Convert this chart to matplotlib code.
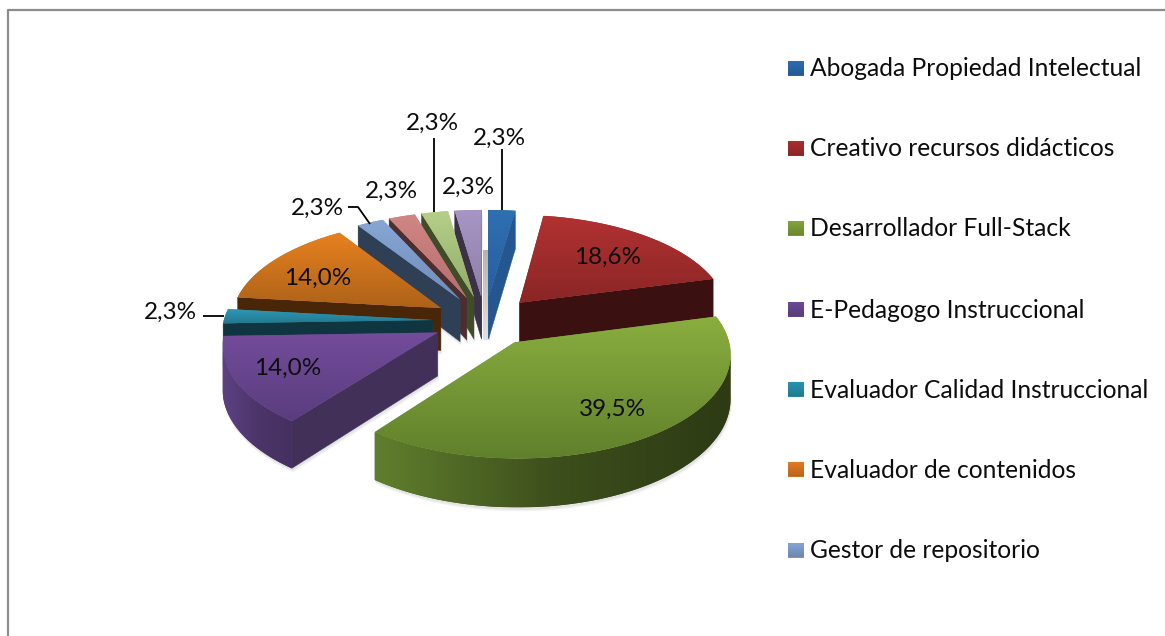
import numpy as np
import matplotlib
matplotlib.use("Agg")
import matplotlib.pyplot as plt
from matplotlib.colors import to_rgb
from matplotlib.patches import Polygon

plt.rcParams['font.family'] = ['Lato', 'DejaVu Sans']

# ---- data ----
legend_labels = ["Abogada Propiedad Intelectual", "Creativo recursos didácticos",
                 "Desarrollador Full-Stack", "E-Pedagogo Instruccional",
                 "Evaluador Calidad Instruccional", "Evaluador de contenidos",
                 "Gestor de repositorio"]
values = [2.3, 18.6, 39.5, 14.0, 2.3, 14.0, 2.3, 2.3, 2.3, 2.3]

top_light = ['#2f6fb2', '#b23131', '#8aae3f', '#734c9b', '#2f9bb9', '#e8811f', '#87a6d4', '#d08685', '#b5cf89', '#a795c5']
top_dark = ['#275f9e', '#8a2626', '#61802c', '#5a3d7e', '#23798f', '#ad6219', '#6f8dbb', '#b46f6e', '#94ab6a', '#8f7da9']
wall_radial = ['#25568f', '#3a1010', '#3a1010', '#433058', '#0f3540', '#4a2608', '#2f3f55', '#4d2e2e', '#3e4c28', '#3b3248']
wall_left = ['#25568f', '#5a1818', '#607f2d', '#5d4183', '#17505f', '#7a4210', '#3f5472', '#6a4040', '#56693a', '#52466a']
wall_mid = ['#22508a', '#451414', '#3d4f1c', '#4c3569', '#124350', '#5e3009', '#364962', '#5a3636', '#485a30', '#463c58']
wall_right = ['#1f4a7a', '#3a1010', '#2d3a14', '#443060', '#0f3540', '#4a2608', '#2f3f55', '#4d2e2e', '#3e4c28', '#3b3248']
legend_colors = ['#2a66a8', '#a02b2b', '#7a9a36', '#65458c', '#278aa3', '#d57320', '#7c9ac8']

# draw order: back of the pie to the front
draw_order = [9, 0, 8, 7, 6, 1, 5, 4, 3, 2]
radius_scale = [1, 1, 1, 1.005, 0.995, 1, 1, 1, 1, 1]
label_xy = [(499, 138), (608, 257), (613, 409), (288, 368), (170, 312),
            (318, 278), (317, 208), (391, 191), (432, 123), (468, 187)]
leaders = {0: [(502, 149), (502, 210)],
           4: [(203, 316), (224, 316)],
           6: [(348, 207), (358, 207), (370, 224)],
           8: [(434, 138), (434, 212)]}
legend_y = [69, 149, 229, 310, 390, 470, 551]

# ---- projection parameters ----
CX, CY = 485.0, 321.0
A, B, K = 210.0, 100.0, 0.10
EXPLODE = 0.25
DEPTH = 43.0

fig = plt.figure(figsize=(11.65, 6.36), dpi=100)
ax = fig.add_axes([0, 0, 1, 1])


def gradient(poly, stops, z, horizontal=False):
    pts = np.asarray(poly)
    y0, y1 = pts[:, 1].min(), pts[:, 1].max()
    x0, x1 = pts[:, 0].min(), pts[:, 0].max()
    rgb = np.array([to_rgb(c) for c in stops])
    t = np.linspace(0, 1, 256)
    pos = np.linspace(0, 1, len(stops))
    ramp = np.column_stack([np.interp(t, pos, rgb[:, c]) for c in range(3)])
    img = ramp[None, :, :] if horizontal else ramp[:, None, :]
    ax.add_patch(Polygon(pts, closed=True, facecolor=tuple(rgb.mean(axis=0)),
                         edgecolor='none', zorder=z))
    im = ax.imshow(img, extent=(x0, x1, y1, y0), aspect='auto', zorder=z + 0.1,
                   interpolation='bilinear')
    im.set_clip_path(Polygon(pts, closed=True, transform=ax.transData))


def project(px, py):
    s = 1 / (1 + K * py)
    return CX + A * px * s, CY - B * py * s, DEPTH * s


total = sum(values)
starts = np.cumsum([0] + values[:-1]) / total * 2 * np.pi
spans = np.array(values) / total * 2 * np.pi

# grey shadow showing between the two back slices
gradient([(482.5, 250), (490, 250), (490, 340), (482.5, 340)], ['#b4b4b4', '#e2e2e2'], 8)

z = 10
for i in draw_order:
    t0, dt = starts[i], spans[i]
    mid = t0 + dt / 2
    ex, ey = EXPLODE * np.sin(mid), EXPLODE * np.cos(mid)
    th = np.linspace(t0, t0 + dt, max(3, int(np.degrees(dt) * 1.5)))
    ax0, ay0, d0 = project(ex, ey)
    r = radius_scale[i]
    xa, ya, da = project(ex + r * np.sin(th), ey + r * np.cos(th))
    arc = np.column_stack([xa, ya])
    top = np.vstack([[ax0, ay0], arc])
    depths = np.concatenate([[d0], da])
    drop = np.column_stack([np.zeros(len(top)), depths])

    # soft shadow under the slice
    sil = np.vstack([top, (top + drop)[::-1]])
    for off, al in ((4, 0.07), (2.5, 0.10)):
        ax.add_patch(Polygon(sil + [off * 0.3, off], closed=True, facecolor='#606060',
                             edgecolor='none', alpha=al, zorder=z - 0.5))

    # curved outer wall, where it faces the viewer
    facing = np.diff(arc[:, 0]) < 0
    if facing.any():
        idx = np.where(facing)[0]
        seg = np.arange(idx[0], idx[-1] + 2)
        upper = arc[seg]
        lower = upper + np.column_stack([np.zeros(len(seg)), da[seg]])
        gradient(np.vstack([upper, lower[::-1]]), [wall_left[i], wall_mid[i], wall_right[i]],
                 z, horizontal=True)

    # the two straight walls, where they face the viewer
    n = len(top)
    for p, q, dp, dq in ((n - 1, 0, depths[n - 1], depths[0]), (0, 1, depths[0], depths[1])):
        if top[q, 0] - top[p, 0] < 0:
            ax.add_patch(Polygon([top[p], top[q], top[q] + [0, dq], top[p] + [0, dp]], closed=True,
                                 facecolor=wall_radial[i], edgecolor=wall_radial[i], lw=0.3,
                                 zorder=z + 0.15))

    gradient(top, [top_light[i], top_dark[i]], z + 0.2)
    z += 1

# leader lines
for pts in leaders.values():
    xs, ys = zip(*pts)
    ax.plot(xs, ys, color='black', lw=1.3, zorder=40, solid_capstyle='butt')

# data labels
for val, (x, y) in zip(values, label_xy):
    ax.text(x, y, f"{val:.1f}".replace('.', ',') + '%', ha='center', va='center',
            fontsize=17.5, color='#0d0d0d', zorder=50)

# legend
for lab, col, y in zip(legend_labels, legend_colors, legend_y):
    c = np.array(to_rgb(col))
    sq = [(788, y - 8.5), (804, y - 8.5), (804, y + 6.5), (788, y + 6.5)]
    gradient(sq, [tuple(np.clip(c * 1.08, 0, 1)), tuple(c * 0.88)], 45)
    ax.text(810, y, lab, ha='left', va='center', fontsize=17.75, color='#0d0d0d', zorder=50)

# chart frame: top and left edges only remain inside the crop
ax.plot([8, 8, 1170], [640, 10, 10], color='#8c8c8c', lw=1.6, zorder=5)

ax.set_xlim(0, 1165)
ax.set_ylim(636, 0)
ax.axis('off')
fig.savefig('out.png', dpi=100, facecolor='white')
